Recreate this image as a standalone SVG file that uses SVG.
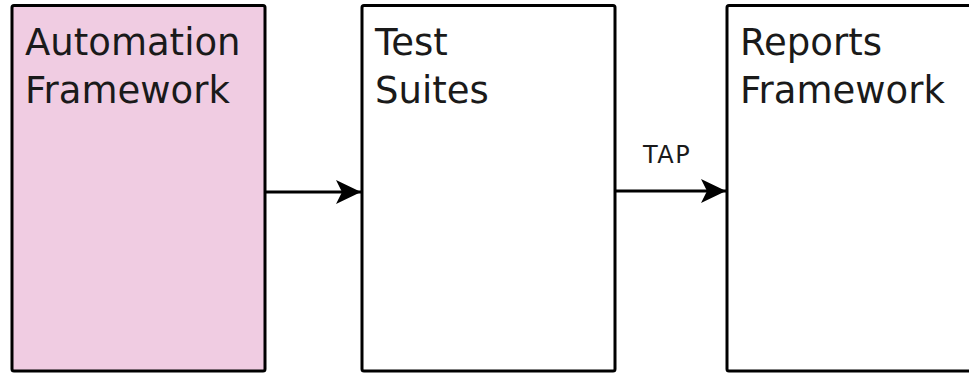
<svg xmlns="http://www.w3.org/2000/svg" width="969" height="374" viewBox="0 0 969 374">
  <style>
    .box { stroke: #000; stroke-width: 3; }
    .label { font-family: "DejaVu Sans", sans-serif; font-size: 37px; fill: #1a1a1a; }
    .edge { stroke: #000; stroke-width: 3; fill: none; }
    .edge-label { font-family: "DejaVu Sans", sans-serif; font-size: 24px; letter-spacing: 1.5px; fill: #1a1a1a; }
  </style>
  <defs>
    <marker id="arrow" markerWidth="28" markerHeight="26" refX="26" refY="13" orient="auto" markerUnits="userSpaceOnUse">
      <path d="M1,1 L26,13 L1,25 L7,13 Z" fill="#000"/>
    </marker>
  </defs>

  <g id="automation-framework">
    <rect class="box" x="12" y="5.5" width="253" height="365.5" rx="2" fill="#f0cce2"/>
    <text class="label" x="25" y="55">Automation</text>
    <text class="label" x="25" y="103">Framework</text>
  </g>

  <g id="test-suites">
    <rect class="box" x="362" y="5.5" width="253" height="365.5" rx="2" fill="#fff"/>
    <text class="label" x="375" y="55">Test</text>
    <text class="label" x="375" y="103">Suites</text>
  </g>

  <g id="reports-framework">
    <rect class="box" x="727" y="5.5" width="280" height="365.5" rx="2" fill="#fff"/>
    <text class="label" x="740" y="55">Reports</text>
    <text class="label" x="740" y="103">Framework</text>
  </g>

  <g id="connectors">
    <line class="edge" x1="265" y1="192" x2="361" y2="192" marker-end="url(#arrow)"/>
    <line class="edge" x1="615" y1="191" x2="726" y2="191" marker-end="url(#arrow)"/>
    <text class="edge-label" x="643" y="163">TAP</text>
  </g>
</svg>
